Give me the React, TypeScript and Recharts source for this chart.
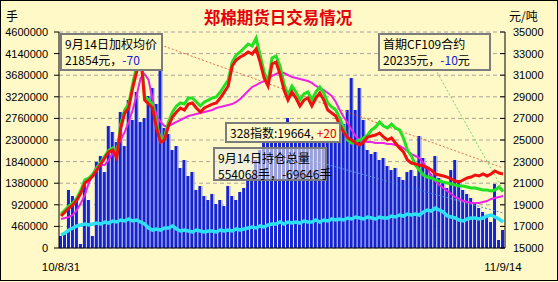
import { Bar, CartesianGrid, ComposedChart, Line, ReferenceLine, XAxis, YAxis } from 'recharts';

// 2010-08-31 .. 2011-09-14, one point per trading-day slot
const dateLabels = ['10/8/31', '11/9/14'];

// 成交量 (手), left axis
const volume = [
	256000, 341000, 1235000, 1107000, 1022000, 85000, 1406000, 1022000, 256000, 1831000,
	1959000, 1618000, 2598000, 2470000, 2257000, 2896000, 2172000, 3152000, 2726000, 3322000,
	2683000, 2768000, 3237000, 3407000, 3067000, 3918000, 2556000, 2428000, 2087000, 2172000,
	1704000, 1874000, 1533000, 1618000, 1235000, 1320000, 1107000, 1022000, 1150000, 937000,
	1022000, 894000, 1320000, 1107000, 1022000, 1193000, 1278000, 1448000, 1533000, 1874000,
	2087000, 2300000, 2470000, 2598000, 2385000, 2556000, 2641000, 2768000, 2513000, 2598000,
	2343000, 2556000, 2428000, 2641000, 2385000, 2513000, 2598000, 2343000, 2470000, 2598000,
	2513000, 2641000, 2939000, 3620000, 2939000, 3407000, 2726000, 2087000, 2002000, 2044000,
	1874000, 1917000, 1746000, 1661000, 1704000, 1512000, 1448000, 1618000, 1661000, 1533000,
	2385000, 1917000, 1746000, 1576000, 1959000, 1491000, 1406000, 1278000, 1661000, 1874000,
	1448000, 1235000, 1150000, 1065000, 937000, 852000, 767000, 660000, 554000, 1363000,
	170000, 383000,
];

// 持仓总量 (手), left axis
const openInterest = [
	277000, 319000, 383000, 426000, 469000, 490000, 511000, 490000, 511000, 532000,
	511000, 554000, 532000, 575000, 554000, 596000, 575000, 618000, 575000, 596000,
	554000, 511000, 426000, 383000, 405000, 383000, 426000, 426000, 469000, 405000,
	362000, 383000, 362000, 341000, 383000, 362000, 341000, 362000, 362000, 341000,
	383000, 362000, 383000, 362000, 405000, 383000, 405000, 426000, 447000, 426000,
	469000, 447000, 490000, 511000, 511000, 554000, 511000, 554000, 532000, 554000,
	532000, 575000, 554000, 554000, 596000, 554000, 596000, 575000, 618000, 596000,
	618000, 596000, 639000, 618000, 660000, 639000, 618000, 660000, 639000, 618000,
	660000, 639000, 639000, 681000, 660000, 703000, 681000, 724000, 703000, 724000,
	703000, 767000, 809000, 788000, 852000, 809000, 767000, 681000, 660000, 639000,
	596000, 575000, 618000, 639000, 639000, 618000, 639000, 681000, 703000, 660000,
	618000, 554068,
];

// 加权均价 (元/吨), right axis
const weightedPrice = [
	17960, 18330, 18700, 18980, 19440, 20090, 21020, 21300, 21670, 22220,
	22780, 23330, 23890, 24070, 23330, 26110, 27500, 27960, 29810, 31300,
	32870, 28700, 28330, 27960, 26110, 24810, 25000, 26300, 27130, 27590,
	27960, 27780, 28330, 28430, 27960, 27590, 27960, 28150, 28330, 28430,
	28890, 29440, 30000, 31850, 32410, 32690, 32870, 33150, 32960, 33430,
	32220, 30740, 30000, 32040, 32220, 31110, 29630, 28700, 29440, 28890,
	28150, 28700, 28890, 28150, 28890, 29350, 28700, 27780, 27500, 27220,
	26390, 25740, 25190, 25000, 24720, 24540, 24810, 25280, 25370, 25460,
	25650, 25280, 25000, 25190, 24720, 24260, 23890, 23150, 22870, 22780,
	22690, 22590, 22410, 22220, 21850, 21760, 21670, 21570, 21390, 21200,
	21110, 21300, 21480, 21570, 21760, 21670, 21850, 21670, 21850, 22130,
	21940, 21854,
];

// 首期合约 (元/吨), right axis
const frontPrice = [
	18150, 18520, 18890, 19170, 19630, 20370, 21300, 21480, 21850, 22410,
	22960, 23520, 24070, 24260, 23520, 26480, 27780, 28330, 30190, 31850,
	33330, 29070, 28700, 28330, 26480, 25000, 25280, 26670, 27590, 28150,
	28430, 28330, 28890, 28890, 28520, 28150, 28520, 28700, 28890, 28980,
	29440, 30000, 30560, 32220, 32870, 33150, 33520, 33890, 33700, 34440,
	32870, 31300, 30370, 32590, 32780, 31850, 30190, 29170, 30000, 29440,
	28700, 29260, 29440, 28700, 29440, 29910, 29350, 28430, 28060, 27780,
	27040, 26110, 25000, 24720, 24810, 25000, 25190, 25460, 25930, 26200,
	26670, 26300, 26110, 26480, 26110, 25930, 25190, 24070, 23520, 22690,
	22220, 21760, 21570, 21480, 21300, 21200, 21110, 21020, 20930, 20830,
	20740, 20740, 20650, 20560, 20560, 20460, 20370, 20370, 20280, 20370,
	20650, 20235,
];

// 均线 (元/吨), right axis
const movingAvg = [
	17690, 17780, 17870, 18060, 18520, 19170, 19910, 21020, 21850, 22590,
	22690, 22690, 23150, 23800, 24350, 25000, 25740, 26670, 27780, 29170,
	30740, 31110, 30560, 28700, 27220, 26670, 26300, 26300, 26480, 26670,
	26850, 27040, 27220, 27310, 27410, 27500, 27590, 27690, 27780, 27960,
	28060, 28150, 28240, 28330, 28520, 28800, 29170, 29540, 29910, 30090,
	30280, 30460, 30740, 30930, 31110, 31300, 31200, 31020, 30830, 30740,
	30650, 30560, 30460, 30280, 30000, 29810, 29630, 29350, 29070, 28520,
	27780, 27130, 26570, 25930, 25370, 25000, 24910, 24810, 24810, 24720,
	24720, 24720, 24630, 24630, 24540, 24440, 24260, 23980, 23700, 23520,
	23330, 22870, 22410, 21670, 21200, 20830, 20560, 20280, 20000, 19720,
	19540, 19350, 19260, 19170, 19170, 19170, 19260, 19350, 19540, 19630,
	19720, 19810,
];

const leftTicks = [0, 460000, 920000, 1380000, 1840000, 2300000, 2760000, 3220000, 3680000, 4140000, 4600000];
const rightTicks = [15000, 17000, 19000, 21000, 23000, 25000, 27000, 29000, 31000, 33000, 35000];

// trend lines drawn on the price axis: [startIndex, startPrice, endIndex, endPrice]
const trendRed = [25, 33800, 111, 22410];
const trendGreen = [92, 32870, 111, 20370];
const trendBlue = [60, 23420, 111, 18240];

const BG = '#fff9c8';
const BLUE = '#1524d0';
const CJK = '"Noto Sans CJK SC", sans-serif';
const TICK_FONT = { fontFamily: '"Liberation Sans", Arial, sans-serif', fontSize: 11, fill: '#000' };

const data = volume.map((v, i) => ({
	i,
	vol: v,
	oi: openInterest[i],
	red: weightedPrice[i],
	green: frontPrice[i],
	ma: movingAvg[i],
}));
const lastIndex = data.length - 1;

const VolBar = (p: any) => {
	const { x, y, width, height } = p;
	if (!height || height <= 0) return <g />;
	return (
		<g>
			<rect x={x} y={y} width={width} height={height} fill={BLUE} />
			<rect x={x + width - 1} y={y} width={1} height={height} fill="#ffffff" />
		</g>
	);
};

const DateTick = (p: any) => {
	const label = p.payload.value === 0 ? dateLabels[0] : dateLabels[1];
	return (
		<text x={p.x} y={p.y + 21} textAnchor="middle" {...TICK_FONT} fontSize={11.5}>
			{label}
		</text>
	);
};

const seg = (t: number[]) => [
	{ x: t[0], y: t[1] },
	{ x: t[2], y: t[3] },
];

type BoxProps = {
	left: number;
	top: number;
	width: number;
	height: number;
	translucent?: boolean;
	children: React.ReactNode;
};

const InfoBox = ({ left, top, width, height, translucent, children }: BoxProps) => (
	<div
		style={{
			position: 'absolute',
			left,
			top,
			width,
			height,
			boxSizing: 'border-box',
			border: '2px solid #7c7c7c',
			background: translucent ? 'rgba(236,236,226,0.62)' : BG,
			fontFamily: CJK,
			fontSize: 12,
			lineHeight: '16px',
			padding: '1px 0 0 3px',
			color: '#000',
			whiteSpace: 'nowrap',
		}}
	>
		{children}
	</div>
);

export default function App() {
	return (
		<div style={{ position: 'relative', width: 558, height: 282, background: BG, overflow: 'hidden' }}>
			<style>{'body{margin:0}'}</style>
			<ComposedChart
				width={558}
				height={282}
				data={data}
				margin={{ top: 32, right: 0, bottom: 4, left: 0 }}
				barCategoryGap={0}
				barGap={0}
				style={{ position: 'absolute', left: 0, top: 0 }}
			>
				<CartesianGrid yAxisId="left" vertical={false} stroke="#a8a49a" strokeDasharray="4 3" />
				<XAxis
					dataKey="i"
					height={30}
					ticks={[0, lastIndex]}
					interval={0}
					tick={<DateTick />}
					tickLine={false}
					tickSize={0}
					axisLine={{ stroke: '#000' }}
				/>
				<YAxis
					yAxisId="left"
					width={59}
					domain={[0, 4600000]}
					ticks={leftTicks}
					interval={0}
					tick={TICK_FONT}
					tickSize={5}
					tickMargin={6}
					axisLine={{ stroke: '#000' }}
					tickLine={{ stroke: '#000' }}
				/>
				<YAxis
					yAxisId="right"
					orientation="right"
					width={53}
					domain={[15000, 35000]}
					ticks={rightTicks}
					interval={0}
					tick={{ ...TICK_FONT, textAnchor: 'start' }}
					tickSize={-5}
					tickMargin={13}
					axisLine={{ stroke: '#000' }}
					tickLine={{ stroke: '#000' }}
				/>
				<Bar yAxisId="left" dataKey="vol" shape={<VolBar />} isAnimationActive={false} />
				<ReferenceLine yAxisId="right" segment={seg(trendRed)} stroke="#e4704c" strokeDasharray="2 2" />
				<ReferenceLine yAxisId="right" segment={seg(trendGreen)} stroke="#6ad86a" strokeDasharray="2 2" />
				<ReferenceLine yAxisId="right" segment={seg(trendBlue)} stroke="#4a8ee6" strokeDasharray="2 2" />
				<Line yAxisId="left" dataKey="oi" stroke="#2ee0f4" strokeWidth={3.5} dot={false} isAnimationActive={false} />
				<Line yAxisId="right" dataKey="ma" stroke="#ee22e6" strokeWidth={2} dot={false} isAnimationActive={false} />
				<Line yAxisId="right" dataKey="green" stroke="#22e022" strokeWidth={3} dot={false} isAnimationActive={false} />
				<Line yAxisId="right" dataKey="red" stroke="#f01010" strokeWidth={3} dot={false} isAnimationActive={false} />
			</ComposedChart>

			<div
				style={{
					position: 'absolute',
					left: 0,
					top: 7,
					width: 556,
					textAlign: 'center',
					fontFamily: CJK,
					fontWeight: 700,
					fontSize: 16.5,
					lineHeight: '20px',
					color: '#e4000c',
				}}
			>
				郑棉期货日交易情况
			</div>
			<div style={{ position: 'absolute', left: 6, top: 7, fontFamily: CJK, fontSize: 12 }}>手</div>
			<div style={{ position: 'absolute', left: 509, top: 7, fontFamily: CJK, fontSize: 12 }}>元/吨</div>

			<InfoBox left={60} top={33} width={103} height={38}>
				9月14日加权均价
				<br />
				21854元，<span style={{ color: '#1020d0' }}>-70</span>
			</InfoBox>
			<InfoBox left={378} top={33} width={113} height={38}>
				首期CF109合约
				<br />
				20235元，<span style={{ color: '#1020d0' }}>-10</span>元
			</InfoBox>
			<InfoBox left={225} top={122} width={116} height={21}>
				328指数:19664, <span style={{ color: '#e00000' }}>+20</span>
			</InfoBox>
			<InfoBox left={213} top={147} width={114} height={34} translucent>
				9月14日持仓总量
				<br />
				554068手，-69646手
			</InfoBox>

			<div
				style={{
					position: 'absolute',
					left: 0,
					top: 0,
					width: 558,
					height: 281,
					boxSizing: 'border-box',
					border: '1px solid #000',
					pointerEvents: 'none',
				}}
			/>
		</div>
	);
}
